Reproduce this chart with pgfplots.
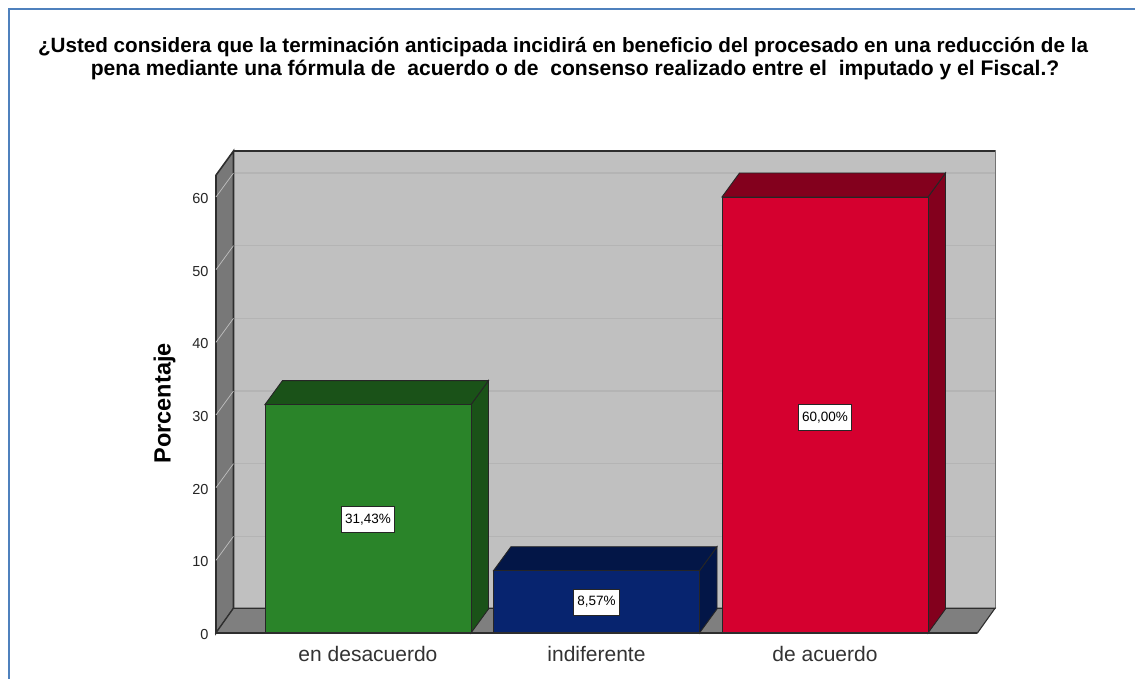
\documentclass[border=0pt]{standalone}
\usepackage{fontspec}
\setmainfont{Liberation Sans}
\usepackage{pgfplots}
\pgfplotsset{compat=1.18}
\definecolor{wall}{HTML}{C0C0C0}
\definecolor{wallside}{HTML}{787878}
\definecolor{floorc}{HTML}{7F7F7F}
\definecolor{gridc}{HTML}{B4B4B4}
\definecolor{edgec}{HTML}{2E2E2E}
\definecolor{frame}{HTML}{4F81BD}
\definecolor{gf}{HTML}{2A8429}
\definecolor{gd}{HTML}{1A5218}
\definecolor{bf}{HTML}{07246F}
\definecolor{bd}{HTML}{031647}
\definecolor{rf}{HTML}{D5002F}
\definecolor{rd}{HTML}{83001D}
\begin{document}
\begin{tikzpicture}[x=1pt,y=1pt]
\path[use as bounding box] (0,0) rectangle (1135,679);
\fill[white] (0,0) rectangle (1135,679);
\draw[frame,line width=2pt] (8.5,-2) -- (8.5,669.5) -- (1137,669.5);
\node[font=\fontsize{20.65}{22}\selectfont\bfseries] at (563,631.5)
 {¿Usted considera que la terminación anticipada incidirá en beneficio del procesado en una reducción de la};
\node[font=\fontsize{21.1}{22}\selectfont\bfseries] at (575,609.5)
 {pena mediante una fórmula de\ \ acuerdo o de\ \ consenso realizado entre el\ \ imputado y el Fiscal.?};
\begin{axis}[
  at={(216pt,46pt)},anchor=south west,
  scale only axis,width=779pt,height=482pt,
  xmin=-0.665,xmax=2.744,ymin=0,ymax=66.33,
  clip=false,
  axis x line*=bottom,axis y line*=left,
  axis line style={draw=none},
  major tick length=0pt,
  xtick={0,1,2},
  xticklabels={en desacuerdo,indiferente,de acuerdo},
  ytick={0,10,20,30,40,50,60},
  xticklabel style={font=\fontsize{21}{24}\selectfont,text=black!80,yshift=-10pt},
  yticklabel style={font=\fontsize{14.5}{16}\selectfont,text=black!85,xshift=-4pt,yshift=-1.5pt},
  /pgf/number format/assume math mode=true,
  ylabel={Porcentaje},
  ylabel style={font=\fontsize{23.5}{24}\selectfont\bfseries,at={(axis cs:-0.665,31.6)},anchor=south,yshift=37pt},
]
% back wall
\addplot[fill=wall,draw=black!55,line width=1pt] coordinates {(-0.5885,3.4)(2.744,3.4)(2.744,66.33)(-0.5885,66.33)} -- cycle;
\addplot[edgec,line width=1.8pt] coordinates {(-0.5885,66.33)(2.744,66.33)};
% grid on back wall
\addplot[gridc,line width=1.6pt] coordinates {(-0.5885,13.3)(2.744,13.3)};
\addplot[gridc,line width=1.6pt] coordinates {(-0.5885,23.3)(2.744,23.3)};
\addplot[gridc,line width=1.6pt] coordinates {(-0.5885,33.3)(2.744,33.3)};
\addplot[gridc,line width=1.6pt] coordinates {(-0.5885,43.3)(2.744,43.3)};
\addplot[gridc,line width=1.6pt] coordinates {(-0.5885,53.3)(2.744,53.3)};
\addplot[gridc,line width=1.6pt] coordinates {(-0.5885,63.3)(2.744,63.3)};
% left wall
\addplot[fill=wallside,draw=edgec,line width=1.6pt] coordinates {(-0.665,0)(-0.5885,3.4)(-0.5885,66.33)(-0.665,63.0)} -- cycle;
\addplot[black!25,line width=0.7pt] coordinates {(-0.665,10)(-0.5885,13.3)};
\addplot[black!25,line width=0.7pt] coordinates {(-0.665,20)(-0.5885,23.3)};
\addplot[black!25,line width=0.7pt] coordinates {(-0.665,30)(-0.5885,33.3)};
\addplot[black!25,line width=0.7pt] coordinates {(-0.665,40)(-0.5885,43.3)};
\addplot[black!25,line width=0.7pt] coordinates {(-0.665,50)(-0.5885,53.3)};
\addplot[black!25,line width=0.7pt] coordinates {(-0.665,60)(-0.5885,63.3)};
% floor
\addplot[fill=floorc,draw=edgec,line width=1.1pt] coordinates {(-0.665,0)(2.667,0)(2.744,3.4)(-0.5885,3.4)} -- cycle;
% green
\addplot[fill=gd,draw=black!85,line width=0.9pt] coordinates {(0.4508,31.43)(0.5274,34.73)(0.5274,3.3)(0.4508,0)} -- cycle;
\addplot[fill=gd,draw=black!85,line width=0.9pt] coordinates {(-0.4508,31.43)(-0.3742,34.73)(0.5274,34.73)(0.4508,31.43)} -- cycle;
\addplot[ybar,bar width=206pt,bar shift=0pt,fill=gf,draw=black!85,line width=0.9pt] coordinates {(0,31.43)};
% blue
\addplot[fill=bd,draw=black!85,line width=0.9pt] coordinates {(1.4508,8.57)(1.5274,11.87)(1.5274,3.3)(1.4508,0)} -- cycle;
\addplot[fill=bd,draw=black!85,line width=0.9pt] coordinates {(0.5492,8.57)(0.6258,11.87)(1.5274,11.87)(1.4508,8.57)} -- cycle;
\addplot[ybar,bar width=206pt,bar shift=0pt,fill=bf,draw=black!85,line width=0.9pt] coordinates {(1,8.57)};
% red
\addplot[fill=rd,draw=black!85,line width=0.9pt] coordinates {(2.4508,60)(2.5274,63.3)(2.5274,3.3)(2.4508,0)} -- cycle;
\addplot[fill=rd,draw=black!85,line width=0.9pt] coordinates {(1.5492,60)(1.6258,63.3)(2.5274,63.3)(2.4508,60)} -- cycle;
\addplot[ybar,bar width=206pt,bar shift=0pt,fill=rf,draw=black!85,line width=0.9pt] coordinates {(2,60)};
% bottom line
\addplot[edgec,line width=1.2pt] coordinates {(-0.665,0)(2.667,0)};
% value labels
\node[draw=black!85,fill=white,line width=0.9pt,inner xsep=4pt,inner ysep=0pt,minimum height=26pt,font=\fontsize{13.5}{15}\selectfont] at (axis cs:0,15.6) {31,43\%};
\node[draw=black!85,fill=white,line width=0.9pt,inner xsep=4pt,inner ysep=0pt,minimum height=26pt,font=\fontsize{13.5}{15}\selectfont] at (axis cs:1,4.27) {8,57\%};
\node[draw=black!85,fill=white,line width=0.9pt,inner xsep=4pt,inner ysep=0pt,minimum height=26pt,font=\fontsize{13.5}{15}\selectfont] at (axis cs:2,29.6) {60,00\%};
\end{axis}
\end{tikzpicture}
\end{document}
